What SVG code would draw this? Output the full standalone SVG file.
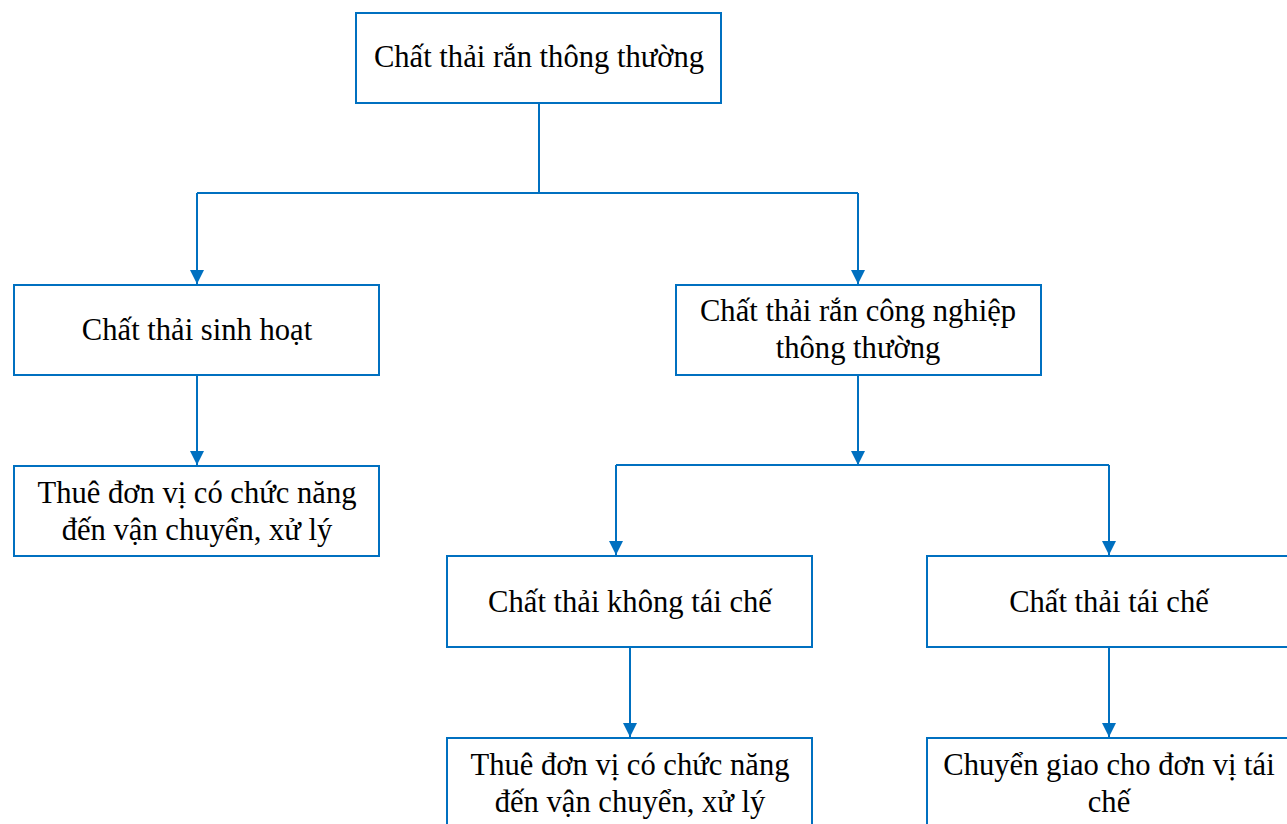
<svg xmlns="http://www.w3.org/2000/svg" width="1287" height="824" viewBox="0 0 1287 824">
  <style>
    .box { fill: #ffffff; stroke: #0070C0; stroke-width: 2; }
    .lbl { font-size: 30.6px; fill: #000000; text-anchor: middle; }
    .wire { fill: none; stroke: #0070C0; stroke-width: 2; }
  </style>
  <defs>
    <marker id="arrow" viewBox="0 0 14 14" refX="14" refY="7" markerWidth="14" markerHeight="14" markerUnits="userSpaceOnUse" orient="auto">
      <path d="M0,0 L14,7 L0,14 Z" fill="#0070C0"/>
    </marker>
  </defs>
  <rect width="1287" height="824" fill="#ffffff"/>

  <g id="connectors">
    <path class="wire" d="M539,103 V193 M197,193 H858"/>
    <path class="wire" d="M197,193 V284" marker-end="url(#arrow)"/>
    <path class="wire" d="M858,193 V284" marker-end="url(#arrow)"/>
    <path class="wire" d="M197,375 V465" marker-end="url(#arrow)"/>
    <path class="wire" d="M858,375 V465" marker-end="url(#arrow)"/>
    <path class="wire" d="M616,465 H1109"/>
    <path class="wire" d="M616,465 V555" marker-end="url(#arrow)"/>
    <path class="wire" d="M1109,465 V555" marker-end="url(#arrow)"/>
    <path class="wire" d="M630,647 V737" marker-end="url(#arrow)"/>
    <path class="wire" d="M1109,647 V737" marker-end="url(#arrow)"/>
  </g>

  <g font-family="'Liberation Serif', 'Times New Roman', serif">
  <g id="node-root">
    <rect class="box" x="356" y="13" width="365" height="90"/>
    <text class="lbl" x="539" y="67">Chất thải rắn thông thường</text>
  </g>
  <g id="node-domestic">
    <rect class="box" x="14" y="285" width="365" height="90"/>
    <text class="lbl" x="197" y="340">Chất thải sinh hoạt</text>
  </g>
  <g id="node-industrial">
    <rect class="box" x="676" y="285" width="365" height="90"/>
    <text class="lbl" x="858" y="321">Chất thải rắn công nghiệp</text>
    <text class="lbl" x="858" y="358">thông thường</text>
  </g>
  <g id="node-domestic-handling">
    <rect class="box" x="14" y="466" width="365" height="90"/>
    <text class="lbl" x="197" y="503">Thuê đơn vị có chức năng</text>
    <text class="lbl" x="197" y="540">đến vận chuyển, xử lý</text>
  </g>
  <g id="node-nonrecyclable">
    <rect class="box" x="447" y="556" width="365" height="91"/>
    <text class="lbl" x="630" y="612">Chất thải không tái chế</text>
  </g>
  <g id="node-recyclable">
    <rect class="box" x="927" y="556" width="365" height="91"/>
    <text class="lbl" x="1109" y="612">Chất thải tái chế</text>
  </g>
  <g id="node-nonrecyclable-handling">
    <rect class="box" x="447" y="738" width="365" height="100"/>
    <text class="lbl" x="630" y="775">Thuê đơn vị có chức năng</text>
    <text class="lbl" x="630" y="812">đến vận chuyển, xử lý</text>
  </g>
  <g id="node-recyclable-handling">
    <rect class="box" x="927" y="738" width="365" height="100"/>
    <text class="lbl" x="1109" y="775">Chuyển giao cho đơn vị tái</text>
    <text class="lbl" x="1109" y="812">chế</text>
  </g>
  </g>
</svg>
